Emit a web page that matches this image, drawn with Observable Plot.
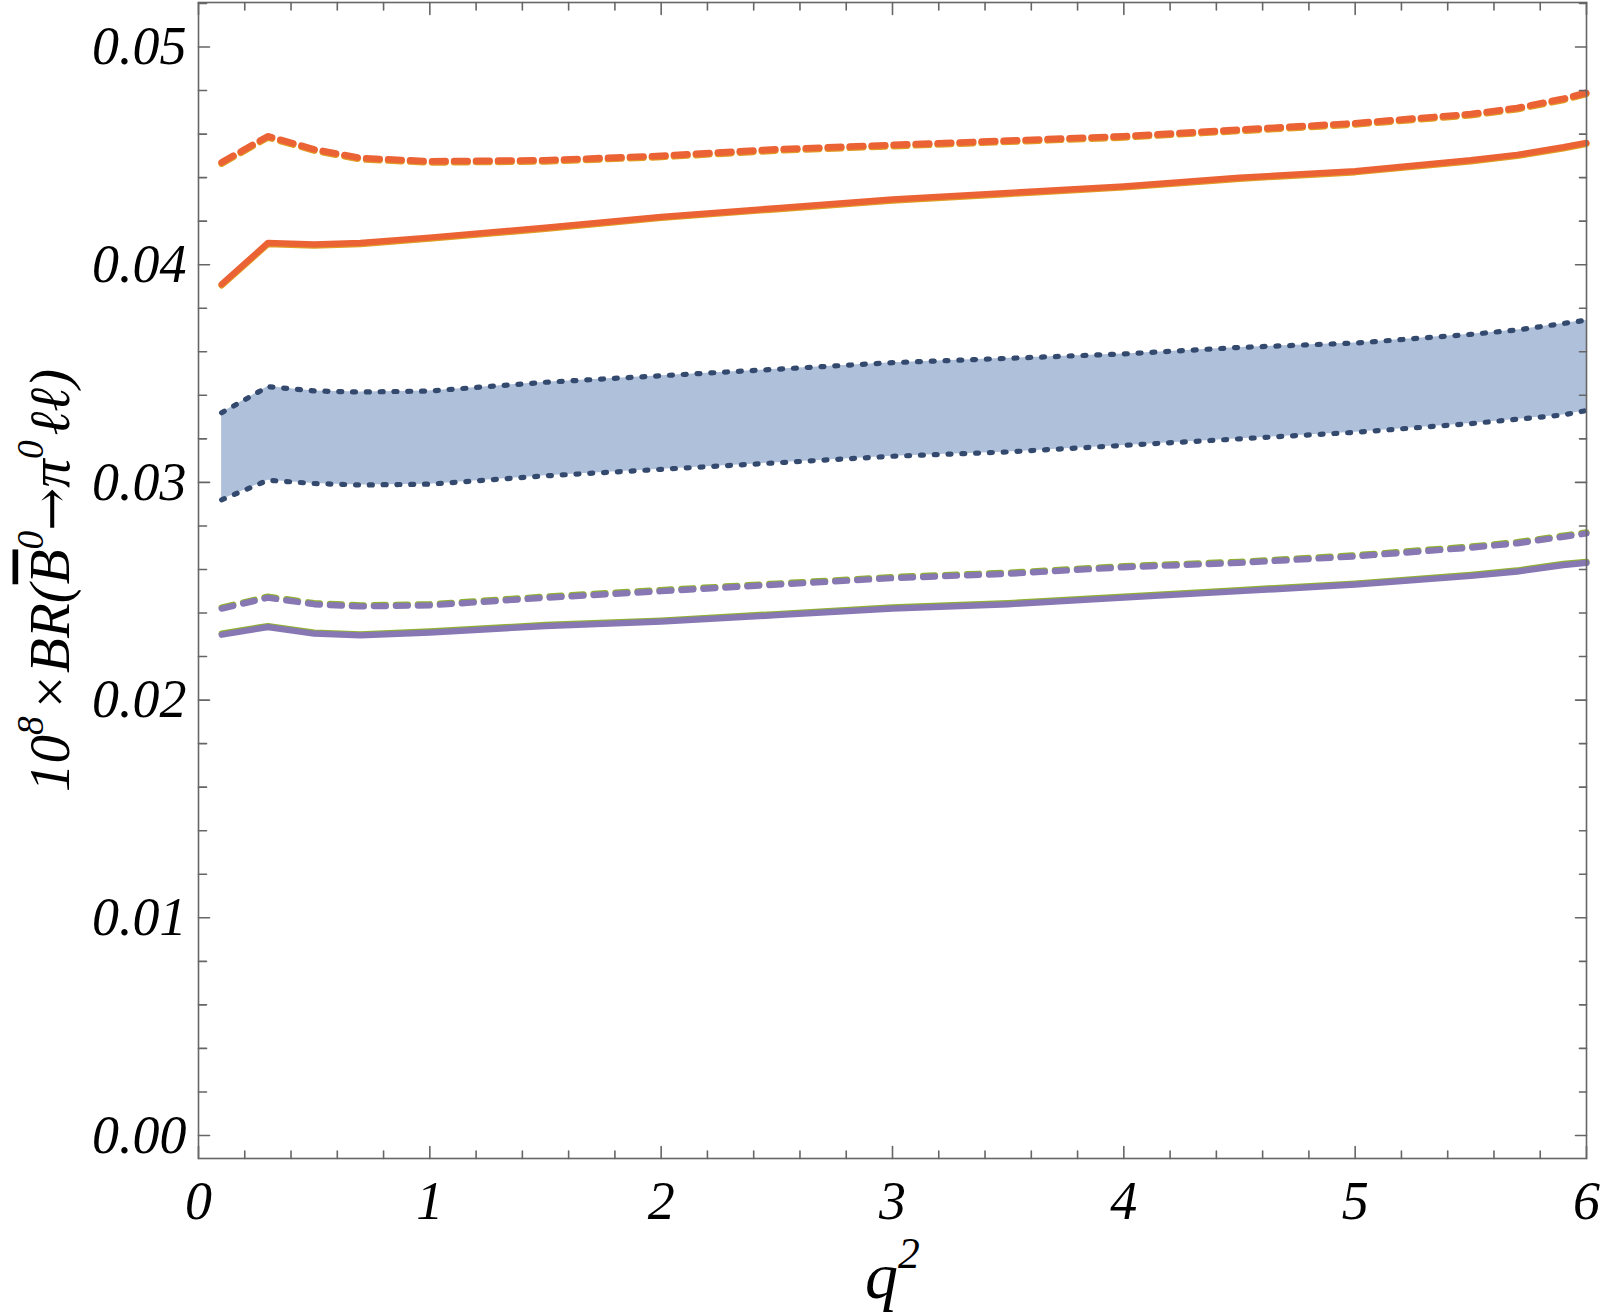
<!DOCTYPE html>
<html><head><meta charset="utf-8">
<script src="https://cdn.jsdelivr.net/npm/d3@7"></script>
<script src="https://cdn.jsdelivr.net/npm/@observablehq/plot@0.6"></script>
<style>body{margin:0;background:#fff}</style>
</head><body><div id="chart"></div>
<script>
// q^2 sample points
const q = [0.1, 0.3, 0.5, 0.7, 1.0, 1.5, 2.0, 2.5, 3.0, 3.5, 4.0, 4.5, 5.0, 5.5, 5.7, 5.9, 6.0];
// orange (upper) curves
const orangeSolid  = [0.0391, 0.0410, 0.04093, 0.0410, 0.04125, 0.0417, 0.0422, 0.0426, 0.0430, 0.0433, 0.0436, 0.0440, 0.0443, 0.0448, 0.04505, 0.0454, 0.0456];
const orangeDashed = [0.0447, 0.0459, 0.0453, 0.0449, 0.04475, 0.0448, 0.0450, 0.0453, 0.0455, 0.0457, 0.0459, 0.0462, 0.0465, 0.04692, 0.0472, 0.04762, 0.0479];
// blue band
const bandHi = [0.0332, 0.0344, 0.0342, 0.03415, 0.0342, 0.0346, 0.0349, 0.0352, 0.0355, 0.0357, 0.0359, 0.0362, 0.0364, 0.0368, 0.0370, 0.0373, 0.03745];
const bandLo = [0.0292, 0.0301, 0.02995, 0.02988, 0.02992, 0.0303, 0.0306, 0.0309, 0.0312, 0.0314, 0.0317, 0.0320, 0.0323, 0.0327, 0.0329, 0.0331, 0.0333];
// purple (lower) curves
const purpleSolid  = [0.0230, 0.02335, 0.02305, 0.02297, 0.0231, 0.0234, 0.0236, 0.0239, 0.0242, 0.0244, 0.0247, 0.0250, 0.0253, 0.0257, 0.0259, 0.0262, 0.0263];
const purpleDashed = [0.0242, 0.0247, 0.0244, 0.0243, 0.02435, 0.0247, 0.0250, 0.0253, 0.0256, 0.0258, 0.0261, 0.0263, 0.0266, 0.0270, 0.0272, 0.0275, 0.02765];

const xTickLabels = [0, 1, 2, 3, 4, 5, 6];
const yTickLabels = [0, 0.01, 0.02, 0.03, 0.04, 0.05];
const xMinor = d3.range(0, 6.001, 0.2).filter(d => Math.abs(d - Math.round(d)) > 1e-6);
const yMinor = d3.range(0, 0.0521, 0.002).filter(d => Math.abs(d * 100 - Math.round(d * 100)) > 1e-6);

const YLABEL = "10^8 ×BR(B^0 →π^0 ℓℓ)";
const XLABEL = "q^2";

const rows = q.map((x, i) => ({
  q: x, os: orangeSolid[i], od: orangeDashed[i], hi: bandHi[i], lo: bandLo[i],
  ps: purpleSolid[i], pd: purpleDashed[i]
}));

const tickShape = {draw(ctx, l) { ctx.moveTo(0, 0); ctx.lineTo(0, -l); }};
const FRAME = "#666666";
const tk = (data, side, len) => {
  const o = {length: len, anchor: "start", shape: tickShape, stroke: FRAME, strokeWidth: 1.6, frameAnchor: side};
  if (side === "bottom") return Plot.vector(data, {...o, x: d => d, rotate: 0});
  if (side === "top") return Plot.vector(data, {...o, x: d => d, rotate: 180});
  if (side === "left") return Plot.vector(data, {...o, y: d => d, rotate: 90});
  return Plot.vector(data, {...o, y: d => d, rotate: -90});
};

const font = "'Liberation Serif', 'Times New Roman', serif";
const W = 6.2, WD = 6.6;

const plot = Plot.plot({
  width: 1600, height: 1314,
  marginLeft: 198, marginRight: 14, marginTop: 2, marginBottom: 156,
  x: {domain: [0, 6]},
  y: {domain: [-0.001057, 0.052044]},
  style: {background: "white", fontFamily: font, color: "black"},
  marks: [
    Plot.areaY(rows, {x: "q", y1: "lo", y2: "hi", fill: "#AFC0DA"}),
    Plot.line(rows, {x: "q", y: "hi", stroke: "#34496E", strokeWidth: 5.2, strokeDasharray: "3,10.8"}),
    Plot.line(rows, {x: "q", y: "lo", stroke: "#34496E", strokeWidth: 5.2, strokeDasharray: "3,10.8"}),
    Plot.line(rows, {x: "q", y: "os", stroke: "#E19C24", strokeWidth: W, dy: 1.2}),
    Plot.line(rows, {x: "q", y: "os", stroke: "#EB6235", strokeWidth: W}),
    Plot.line(rows, {x: "q", y: "od", stroke: "#E19C24", strokeWidth: WD, strokeDasharray: "13.5,8.5", dy: 1.2}),
    Plot.line(rows, {x: "q", y: "od", stroke: "#EB6235", strokeWidth: WD, strokeDasharray: "13.5,8.5"}),
    Plot.line(rows, {x: "q", y: "ps", stroke: "#8FB032", strokeWidth: W, dy: -1.2}),
    Plot.line(rows, {x: "q", y: "ps", stroke: "#8778B3", strokeWidth: W}),
    Plot.line(rows, {x: "q", y: "pd", stroke: "#8FB032", strokeWidth: W, strokeDasharray: "12,10", dy: -1.2}),
    Plot.line(rows, {x: "q", y: "pd", stroke: "#8778B3", strokeWidth: W, strokeDasharray: "12,10"}),
    Plot.frame({stroke: FRAME, strokeWidth: 1.6}),
    tk(xTickLabels, "bottom", 12), tk(xMinor, "bottom", 7.5),
    tk(xTickLabels, "top", 12), tk(xMinor, "top", 7.5),
    tk(yTickLabels, "left", 11), tk(yMinor, "left", 8),
    tk(yTickLabels, "right", 11), tk(yMinor, "right", 7),
    Plot.axisX({ticks: xTickLabels, tickSize: 0, tickPadding: 22, tickFormat: d => String(d), label: null,
      fontSize: 54, fontStyle: "italic", fontFamily: font, fill: "black"}),
    Plot.axisY({ticks: yTickLabels, tickSize: 0, tickPadding: 12, tickFormat: d3.format(".2f"), label: null,
      fontSize: 54, fontStyle: "italic", fontFamily: font, fill: "black"}),
    Plot.text([XLABEL], {frameAnchor: "bottom", dy: 139, lineAnchor: "bottom", textAnchor: "middle", text: d => d,
      fontSize: 66, fontStyle: "italic", fontFamily: font, fill: "black"}),
    Plot.text([YLABEL], {frameAnchor: "left", dx: -130, rotate: -90, lineAnchor: "bottom", textAnchor: "middle", text: d => d,
      fontSize: 57, fontStyle: "italic", fontFamily: font, fill: "black"})
  ]
});

document.getElementById("chart").appendChild(plot);

// rich text: superscripts and overline
const NS = "http://www.w3.org/2000/svg";
function rich(el, parts, size) {
  el.textContent = "";
  let raised = false;
  for (const p of parts) {
    const ts = document.createElementNS(NS, "tspan");
    ts.textContent = p.t;
    if (p.sup) {
      ts.setAttribute("font-size", size * 0.66);
      ts.setAttribute("dy", -size * 0.45);
      raised = true;
    } else if (raised) {
      ts.setAttribute("dy", size * 0.45);
      raised = false;
    }
    if (p.bar) ts.setAttribute("text-decoration", "overline");
    if (p.up) { ts.setAttribute("font-style", "normal"); ts.setAttribute("font-family", "'DejaVu Serif'"); ts.setAttribute("font-size", size * 0.9); }
    el.appendChild(ts);
  }
}
d3.select(plot).selectAll("text").each(function() {
  if (this.textContent === YLABEL) {
    rich(this, [
      {t: "10"}, {t: "8", sup: true}, {t: "\u200a×"}, {t: "BR("}, {t: "B", bar: true}, {t: "0", sup: true},
      {t: "→", up: true}, {t: "π"}, {t: "0", sup: true}, {t: "\u200aℓℓ)"}
    ], 57);
  } else if (this.textContent === XLABEL) {
    rich(this, [{t: "q"}, {t: "2", sup: true}], 66);
  }
});
</script>
</body></html>
